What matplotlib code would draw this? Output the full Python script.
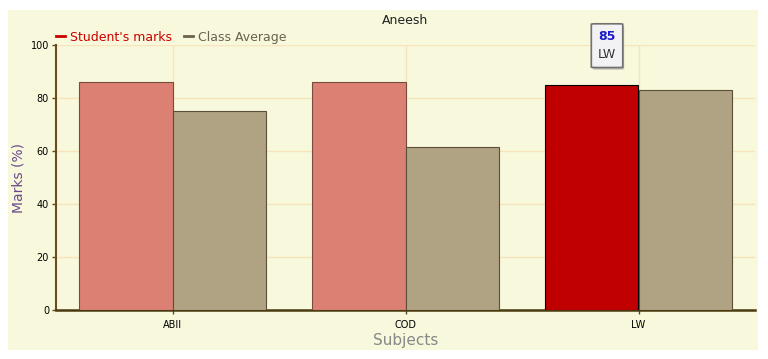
import matplotlib.pyplot as plt
import matplotlib.patches as mpatches
from matplotlib.lines import Line2D
import numpy as np

subjects = ['ABII', 'COD', 'LW']
student_marks = [86, 86, 85]
class_average = [75, 61.5, 83]
highlight = 'LW'

bg = '#f8f8dc'
fig = plt.figure(figsize=(7.68, 3.59), dpi=100, facecolor='white')
fig.patches.append(mpatches.Rectangle((8 / 768, 9 / 359), 750 / 768, 340 / 359,
                                      transform=fig.transFigure, facecolor=bg,
                                      edgecolor='none', zorder=-10))

ax = fig.add_axes([56 / 768, 49 / 359, 699 / 768, 265 / 359])
ax.set_facecolor(bg)

x = np.arange(len(subjects))
w = 0.4
cols = ['#c00000' if s == highlight else '#db8072' for s in subjects]
edges = ['black' if s == highlight else '#7a4a3a' for s in subjects]
ax.bar(x - w / 2, student_marks, w, color=cols, edgecolor=edges, linewidth=0.8, zorder=3)
ax.bar(x + w / 2, class_average, w, color='#afa383', edgecolor='#5a5038', linewidth=0.8, zorder=3)

ax.set_xlim(-0.5, len(subjects) - 0.5)
ax.set_ylim(0, 100)
ax.set_yticks([0, 20, 40, 60, 80, 100])
ax.set_xticks(x)
ax.set_xticklabels(subjects)
ax.grid(True, color='#f7e4bc', linewidth=1, zorder=0)
ax.tick_params(axis='both', labelsize=7, length=3, width=1, color='#5c4a1e', pad=2)
ax.tick_params(axis='x', pad=4)

for s in ['top', 'right']:
    ax.spines[s].set_visible(False)
ax.spines['left'].set_color('#6b4a1e')
ax.spines['bottom'].set_color('#4a3a10')
ax.spines['left'].set_linewidth(1.5)
ax.spines['bottom'].set_linewidth(1.8)

ax.set_ylabel('Marks (%)', color='#6a4a8a', fontsize=10, labelpad=4)
ax.set_xlabel('Subjects', color='#888888', fontsize=11, labelpad=2)
ax.set_title('Aneesh', fontsize=9, color='#222222', pad=15)

handles = [Line2D([0], [0], color='#cc0000', lw=2),
           Line2D([0], [0], color='#6b6250', lw=2)]
leg = ax.legend(handles, ["Student's marks", 'Class Average'], ncol=2, frameon=False,
                loc='lower left', bbox_to_anchor=(0.0, 1.005), fontsize=9,
                handlelength=0.7, handletextpad=0.4, columnspacing=1.0,
                borderaxespad=0, borderpad=0)
for t, c in zip(leg.get_texts(), ['#cc0000', '#6b6250']):
    t.set_color(c)

# tooltip for highlighted bar
i = subjects.index(highlight)
tx = i - 0.135
bw, bh, by = 0.135, 16.5, 91.5
shadow = mpatches.FancyBboxPatch((tx - bw / 2 + 0.006, by - 0.8), bw, bh,
                                 boxstyle='round,pad=0,rounding_size=0.02',
                                 facecolor='#999999', edgecolor='none', alpha=0.6,
                                 clip_on=False, zorder=5, mutation_aspect=8)
ax.add_patch(shadow)
box = mpatches.FancyBboxPatch((tx - bw / 2, by), bw, bh,
                              boxstyle='round,pad=0,rounding_size=0.02',
                              facecolor='#f2f2f4', edgecolor='#707070', linewidth=1.2,
                              clip_on=False, zorder=6, mutation_aspect=8)
ax.add_patch(box)
ax.text(tx, 103.3, str(student_marks[i]), color='#1a1acc', fontsize=9, fontweight='bold',
        ha='center', va='center', zorder=7, clip_on=False)
ax.text(tx, 96.5, highlight, color='#333333', fontsize=9, ha='center', va='center',
        zorder=7, clip_on=False)

fig.savefig('out.png', dpi=100, facecolor='white')
